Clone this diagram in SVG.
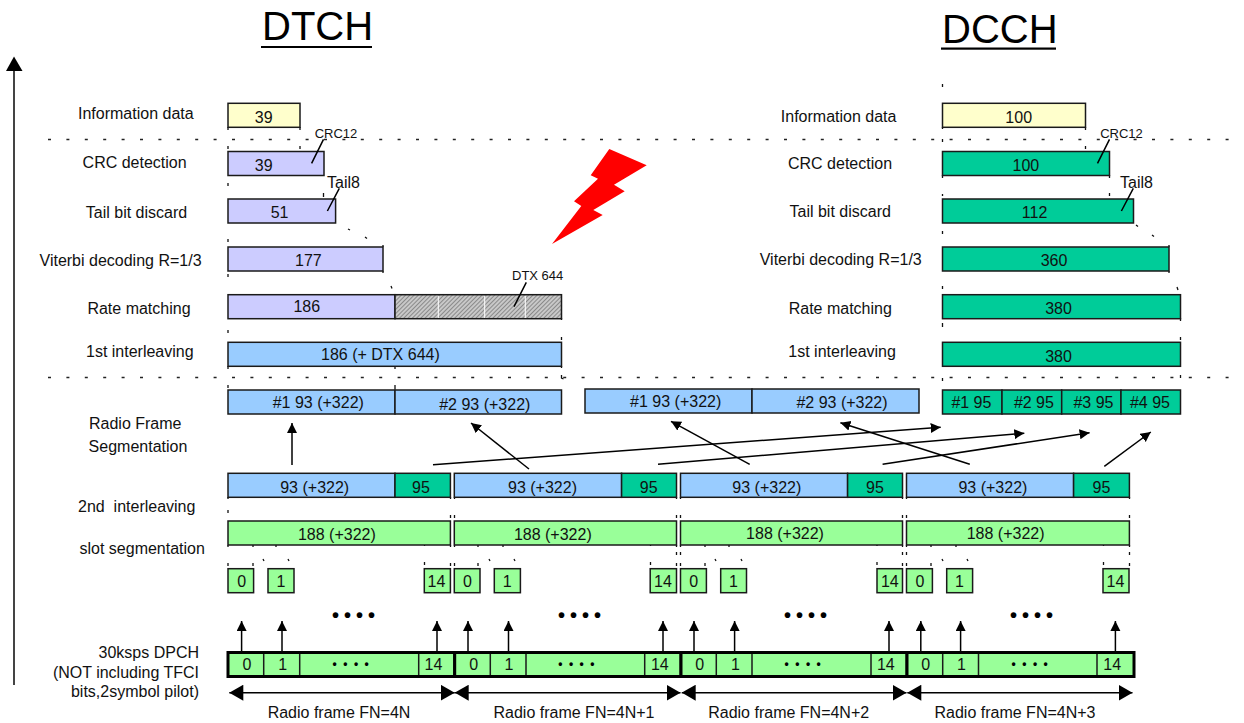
<svg xmlns="http://www.w3.org/2000/svg" width="1244" height="723" viewBox="0 0 1244 723">
<style>
text{font-family:"Liberation Sans",Arial,sans-serif;font-size:16px;fill:#111}
.m{text-anchor:middle}
.e{text-anchor:end}
.s{font-size:13px}
.t{font-size:40px;fill:#000}
.b{stroke:#1a1a1a;stroke-width:1.5}
.y{fill:#FFFFCC}.l{fill:#CCCCFF}.u{fill:#99CCFF}.g{fill:#00CC99}.n{fill:#99FF99}
.c{fill:none;stroke:#000;stroke-width:1.5}
.a{fill:none;stroke:#000;stroke-width:1.5;marker-end:url(#ah)}
.d{fill:none;stroke:#000;stroke-width:1.5;marker-start:url(#ds);marker-end:url(#de)}
.k{fill:none;stroke:#111;stroke-width:1.3}
.h{fill:none;stroke:#222;stroke-width:1.5;stroke-dasharray:3 15.4}
.big{font-size:20px;letter-spacing:5px;font-weight:bold;fill:#000}
.sm{font-size:12px;letter-spacing:6.5px;font-weight:bold;fill:#000}
.f{fill:none;stroke:#000;stroke-width:3}
</style>
<defs>
<marker id="ah" markerUnits="userSpaceOnUse" markerWidth="12" markerHeight="12" refX="10" refY="5" orient="auto"><path d="M0 0L10 5L0 10Z" fill="#000"/></marker>
<marker id="ds" markerUnits="userSpaceOnUse" markerWidth="16" markerHeight="18" refX="0" refY="8" orient="auto"><path d="M14 0L0 8L14 16Z" fill="#000"/></marker>
<marker id="de" markerUnits="userSpaceOnUse" markerWidth="16" markerHeight="18" refX="14" refY="8" orient="auto"><path d="M0 0L14 8L0 16Z" fill="#000"/></marker>
<pattern id="hatch" width="3" height="3" patternUnits="userSpaceOnUse" patternTransform="rotate(-45)"><rect width="3" height="3" fill="#c8c8c8"/><rect width="3" height="1" fill="#8a8a8a"/></pattern>
</defs>

<g id="titles">
<text class="t" x="262" y="40">DTCH</text><rect x="261" y="46" width="111" height="2" fill="#000"/>
<text class="t" x="942" y="43">DCCH</text><rect x="941" y="47.500" width="115" height="2.200" fill="#000"/>
</g>

<g id="connectors">
<path d="M14 685V70" fill="none" stroke="#444" stroke-width="2"/>
<path d="M14 56.500L22.500 71H6Z" fill="#000"/>
<path class="h" d="M48 139.500H1235"/>
<path class="h" d="M48 377.500H1235"/>
<path class="k" d="M228 127v3M228 146v3M228 183v3M228 239v3M228 274v3M228 330v3M228 366v3M228 385v3
M300 127v3M300 146v3M300 163v4M323.500 193v4M323 211v4M348 229l2 1M365 237l2 1.500M383 245v2M383 271v2M391 286l1 2.500
M395 366v3M395 385v4M561.500 318v2M561.500 337v3M561.500 366v2M561.500 375v3l2 1
M942.500 84v3M942.500 127v2M942.500 139v3M942.500 175v3M942.500 194v2M942.500 231v3M942.500 286v3M942.500 323v4M942.500 378v3
M1085.500 127v3M1085.500 146v3M1085.500 163v4M1109.500 175v3M1109.500 193v3M1109.500 211v4M1136 225l2 1.500M1152 235l2 1.500M1169 245v2M1169 271v2M1177 287l1 3
M1180.500 318v3M1180.500 337v3M1180.500 375v3
M228 497v2M228 510v3M228 545v2M228 563v3M450.500 497v2M450.500 515v3M450.500 545v2M450.500 563v3M454.500 497v2M454.500 515v3M454.500 545v2M454.500 563v3
M253 545v2M253 563v3M276 545v2M263 559l1 2M288 559l1 2M424.500 543v3M424.500 562v3
M478 545v2M478 563v3M503 545v2M489 559l1 2M514 559l1 2M650.500 543v3M650.500 562v3
M676.500 497v2M676.500 515v3M676.500 545v2M676.500 552v3M676.500 563v3M680.500 497v2M680.500 515v3M680.500 545v2M680.500 552v3M680.500 563v3
M705 545v2M705 563v3M729 545v2M715 559l1 2M741 559l1 2M877 543v3M877 562v3
M902.500 497v2M902.500 515v3M902.500 545v2M902.500 552v3M902.500 563v3M906.500 497v2M906.500 515v3M906.500 545v2M906.500 552v3M906.500 563v3
M931 545v2M931 563v3M956 545v2M942 559l1 2M967 559l1 2M1103.500 543v3M1103.500 562v3M1129.500 497v2M1129.500 515v3M1129.500 545v2M1129.500 552v3M1129.500 563v3"/>
<path class="a" d="M292 465V423"/>
<path class="a" d="M529 469L471 423"/>
<path class="a" d="M433 464.700L940.700 427.300"/>
<path class="a" d="M658 464.300L1024.300 433.300"/>
<path class="a" d="M882.600 464.300L1089.600 432.700"/>
<path class="a" d="M749.700 464.300L671 421.300"/>
<path class="a" d="M969.800 464.300L840.400 422.700"/>
<path class="a" d="M1104.300 466.300L1150.800 432"/>
<path class="a" d="M241.600 651V621"/><path class="a" d="M282 651V621"/><path class="a" d="M437 651V621"/>
<path class="a" d="M468 651V621"/><path class="a" d="M508.500 651V621"/><path class="a" d="M663 651V621"/>
<path class="a" d="M694 651V621"/><path class="a" d="M734.600 651V621"/><path class="a" d="M889 651V621"/>
<path class="a" d="M920.800 651V621"/><path class="a" d="M960.600 651V621"/><path class="a" d="M1115.400 651V621"/>
<path class="d" d="M229.300 692.700H454.700"/>
<path class="d" d="M454.700 692.700H680.500"/>
<path class="d" d="M681.700 692.700H906.500"/>
<path class="d" d="M907.300 692.700H1132.500"/>
</g>

<g id="lightning"><polygon points="609.300,149 646.700,165.300 614,184.700 624.700,191.300 593.300,210 602.700,215 552,244 581.300,206 574,201.300 598,178.700 590.700,175.300" fill="#FF0000"/></g>

<g id="row-labels">
<text x="78" y="119.300">Information data</text>
<text x="82.600" y="168.300">CRC detection</text>
<text x="85.800" y="218">Tail bit discard</text>
<text x="39.500" y="266">Viterbi decoding R=1/3</text>
<text x="87.400" y="314">Rate matching</text>
<text x="86" y="357.300">1st interleaving</text>
<text x="780.800" y="122">Information data</text>
<text x="788" y="169.300">CRC detection</text>
<text x="789.500" y="217">Tail bit discard</text>
<text x="759.700" y="265">Viterbi decoding R=1/3</text>
<text x="788.700" y="314">Rate matching</text>
<text x="788.300" y="357.300">1st interleaving</text>
<text x="89" y="429.300">Radio Frame</text>
<text x="88.600" y="452">Segmentation</text>
<text x="78" y="512.300" xml:space="preserve">2nd  interleaving</text>
<text x="79.500" y="554">slot segmentation</text>
<text class="e" x="199" y="658.300">30ksps DPCH</text>
<text class="e" x="199" y="678">(NOT including TFCI</text>
<text class="e" x="199" y="697.300">bits,2symbol pilot)</text>
<text class="m" x="339" y="718.300">Radio frame FN=4N</text>
<text class="m" x="574" y="718.300">Radio frame FN=4N+1</text>
<text class="m" x="788.700" y="718.300">Radio frame FN=4N+2</text>
<text class="m" x="1015" y="718.300">Radio frame FN=4N+3</text>
</g>

<g id="dtch-info"><rect class="b y" x="228" y="103.300" width="72" height="24"/><text class="m" x="263.700" y="122.700">39</text></g>
<g id="dtch-crc"><rect class="b l" x="228" y="151.500" width="96" height="24"/><text class="m" x="263.700" y="170.700">39</text><text class="s m" x="336" y="138">CRC12</text></g>
<g id="dtch-tail"><rect class="b l" x="228" y="199" width="107.600" height="24"/><text class="m" x="279.600" y="218">51</text><text x="327" y="188">Tail8</text></g>
<g id="dtch-viterbi"><rect class="b l" x="228" y="247" width="155" height="24"/><text class="m" x="308.400" y="266">177</text></g>
<g id="dtch-rate"><rect class="b l" x="228" y="294.700" width="167" height="24"/><text class="m" x="306.800" y="312.300">186</text></g>
<g id="dtch-dtx"><rect class="b" x="395" y="294.700" width="166.500" height="24" fill="url(#hatch)"/><path d="M438.300 296V318M484.700 296V318M525.300 296V318" stroke="#fff" stroke-width="1"/><text class="s" x="512" y="280">DTX 644</text></g>
<g id="dtch-1st"><rect class="b u" x="228" y="342.300" width="333.500" height="24"/><text class="m" x="380.400" y="360.300">186 (+ DTX 644)</text></g>

<g id="rfs-1"><rect class="b u" x="228" y="390" width="167" height="24"/><text class="m" x="318.300" y="408.300">#1 93 (+322)</text></g>
<g id="rfs-2"><rect class="b u" x="395" y="390" width="166.500" height="24"/><text class="m" x="484.800" y="410">#2 93 (+322)</text></g>
<g id="rfs-3"><rect class="b u" x="585" y="389" width="167" height="24"/><text class="m" x="675.700" y="406.700">#1 93 (+322)</text></g>
<g id="rfs-4"><rect class="b u" x="752" y="389" width="167" height="24"/><text class="m" x="842" y="408">#2 93 (+322)</text></g>

<g id="dcch-info"><rect class="b y" x="942.500" y="103.300" width="143" height="24"/><text class="m" x="1018.700" y="122.700">100</text></g>
<g id="dcch-crc"><rect class="b g" x="942.500" y="151.500" width="167" height="24"/><text class="m" x="1025.900" y="170.700">100</text><text class="s m" x="1121.500" y="138">CRC12</text></g>
<g id="dcch-tail"><rect class="b g" x="942.500" y="199" width="191" height="24"/><text class="m" x="1034.600" y="218">112</text><text x="1120" y="188">Tail8</text></g>
<g id="dcch-viterbi"><rect class="b g" x="942.500" y="247" width="226.500" height="24"/><text class="m" x="1054" y="266">360</text></g>
<g id="dcch-rate"><rect class="b g" x="942.500" y="294.700" width="238" height="24"/><text class="m" x="1058.500" y="314">380</text></g>
<g id="dcch-1st"><rect class="b g" x="942.500" y="342.300" width="238" height="24"/><text class="m" x="1058.500" y="361.700">380</text></g>
<g id="dcch-s1"><rect class="b g" x="942.500" y="390" width="59.500" height="24"/><text class="m" x="971.400" y="408.300">#1 95</text></g>
<g id="dcch-s2"><rect class="b g" x="1002" y="390" width="59.700" height="24"/><text class="m" x="1033.900" y="408.300">#2 95</text></g>
<g id="dcch-s3"><rect class="b g" x="1061.700" y="390" width="59.300" height="24"/><text class="m" x="1093.500" y="408.300">#3 95</text></g>
<g id="dcch-s4"><rect class="b g" x="1121" y="390" width="59.500" height="24"/><text class="m" x="1150" y="408.300">#4 95</text></g>

<g id="il2-1"><rect class="b u" x="228" y="473.300" width="167" height="24"/><text class="m" x="314.700" y="493.300">93 (+322)</text><rect class="b g" x="395" y="473.300" width="55.400" height="24"/><text class="m" x="421" y="493.300">95</text></g>
<g id="il2-2"><rect class="b u" x="454.300" y="473.300" width="167.300" height="24"/><text class="m" x="542.500" y="493.300">93 (+322)</text><rect class="b g" x="621.600" y="473.300" width="54.900" height="24"/><text class="m" x="648.700" y="493.300">95</text></g>
<g id="il2-3"><rect class="b u" x="680.500" y="473.300" width="167.100" height="24"/><text class="m" x="766.800" y="493.300">93 (+322)</text><rect class="b g" x="847.600" y="473.300" width="54.900" height="24"/><text class="m" x="875" y="493.300">95</text></g>
<g id="il2-4"><rect class="b u" x="906.500" y="473.300" width="167.100" height="24"/><text class="m" x="992.900" y="493.300">93 (+322)</text><rect class="b g" x="1073.600" y="473.300" width="55.800" height="24"/><text class="m" x="1101.500" y="493.300">95</text></g>

<g id="seg-1"><rect class="b n" x="228" y="521" width="222.400" height="24"/><text class="m" x="336.900" y="540.300">188 (+322)</text></g>
<g id="seg-2"><rect class="b n" x="454.300" y="521" width="222.200" height="24"/><text class="m" x="552.800" y="540.300">188 (+322)</text></g>
<g id="seg-3"><rect class="b n" x="680.500" y="521" width="222" height="24"/><text class="m" x="785" y="539">188 (+322)</text></g>
<g id="seg-4"><rect class="b n" x="906.500" y="521" width="222.900" height="24"/><text class="m" x="1005.600" y="539">188 (+322)</text></g>

<g id="slots-1"><rect class="b n" x="228" y="568.700" width="25.600" height="24"/><text class="m" x="241.600" y="587.300">0</text><rect class="b n" x="268" y="568.700" width="26" height="24"/><text class="m" x="281" y="587.300">1</text><rect class="b n" x="424.300" y="568.700" width="26.100" height="24"/><text class="m" x="436.500" y="587.300">14</text></g>
<g id="slots-2"><rect class="b n" x="454.300" y="568.700" width="25.700" height="24"/><text class="m" x="467.400" y="587.300">0</text><rect class="b n" x="494.300" y="568.700" width="26.100" height="24"/><text class="m" x="507.300" y="587.300">1</text><rect class="b n" x="650.200" y="568.700" width="26.300" height="24"/><text class="m" x="663" y="587.300">14</text></g>
<g id="slots-3"><rect class="b n" x="680.500" y="568.700" width="25.900" height="24"/><text class="m" x="693.600" y="587.300">0</text><rect class="b n" x="720.700" y="568.700" width="25.800" height="24"/><text class="m" x="733.400" y="587.300">1</text><rect class="b n" x="877" y="568.700" width="25.500" height="24"/><text class="m" x="889.800" y="587.300">14</text></g>
<g id="slots-4"><rect class="b n" x="906.500" y="568.700" width="25.900" height="24"/><text class="m" x="920" y="587.300">0</text><rect class="b n" x="946.700" y="568.700" width="25.900" height="24"/><text class="m" x="959.400" y="587.300">1</text><rect class="b n" x="1103" y="568.700" width="26" height="24"/><text class="m" x="1115.400" y="587.300">14</text></g>

<g id="dots">
<text class="big" x="332" y="621.500">••••</text>
<text class="big" x="558" y="621.500">••••</text>
<text class="big" x="784" y="621.500">••••</text>
<text class="big" x="1010" y="621.500">••••</text>
</g>

<g id="dpch-1"><rect class="n" x="228" y="652.500" width="226.700" height="24"/><path class="b" fill="none" d="M263.700 653V676M299.700 653V676M418.700 653V676"/><rect class="f" x="228" y="652.500" width="226.700" height="24"/><text class="m" x="247" y="670">0</text><text class="m" x="282.700" y="670">1</text><text class="sm" x="332.500" y="668">••••</text><text class="m" x="433.400" y="670">14</text></g>
<g id="dpch-2"><rect class="n" x="454.700" y="652.500" width="226.300" height="24"/><path class="b" fill="none" d="M490.300 653V676M526 653V676M644.700 653V676"/><rect class="f" x="454.700" y="652.500" width="226.300" height="24"/><text class="m" x="473.700" y="670">0</text><text class="m" x="508.900" y="670">1</text><text class="sm" x="558.200" y="668">••••</text><text class="m" x="659.800" y="670">14</text></g>
<g id="dpch-3"><rect class="n" x="681" y="652.500" width="226" height="24"/><path class="b" fill="none" d="M716.300 653V676M752 653V676M871 653V676"/><rect class="f" x="681" y="652.500" width="226" height="24"/><text class="m" x="699.600" y="670">0</text><text class="m" x="735.400" y="670">1</text><text class="sm" x="784.500" y="668">••••</text><text class="m" x="885.800" y="670">14</text></g>
<g id="dpch-4"><rect class="n" x="907" y="652.500" width="227" height="24"/><path class="b" fill="none" d="M942.700 653V676M978.500 653V676M1097 653V676"/><rect class="f" x="907" y="652.500" width="227" height="24"/><text class="m" x="925.600" y="670">0</text><text class="m" x="961.400" y="670">1</text><text class="sm" x="1011.500" y="668">••••</text><text class="m" x="1112.200" y="670">14</text></g>

<g id="leaders"><path class="c" d="M323.500 139.300L311.600 163.300M339.300 188.300L327.400 211M526.300 282.300L514 306.700M1109.500 139.300L1097.500 163.300M1133.300 188.300L1121.400 211"/></g>
</svg>
